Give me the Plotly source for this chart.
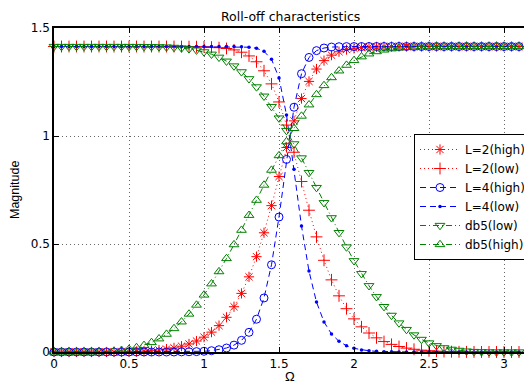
import plotly.graph_objects as go

# ---- data ----
omega = [0.00, 0.05, 0.10, 0.15, 0.20, 0.25, 0.30, 0.35, 0.40, 0.45,
         0.50, 0.55, 0.60, 0.65, 0.70, 0.75, 0.80, 0.85, 0.90, 0.95,
         1.00, 1.05, 1.10, 1.15, 1.20, 1.25, 1.30, 1.35, 1.40, 1.45,
         1.50, 1.55, 1.60, 1.65, 1.70, 1.75, 1.80, 1.85, 1.90, 1.95,
         2.00, 2.05, 2.10, 2.15, 2.20, 2.25, 2.30, 2.35, 2.40, 2.45,
         2.50, 2.55, 2.60, 2.65, 2.70, 2.75, 2.80, 2.85, 2.90, 2.95,
         3.00, 3.05, 3.10]

l2_high = [0.0, 0.0, 0.0, 0.0, 0.0, 0.0, 0.0, 0.0, 0.0, 0.0009,
           0.0015, 0.0025, 0.0040, 0.0061, 0.0092, 0.0134, 0.0191, 0.0269, 0.0372, 0.0508,
           0.0687, 0.0920, 0.1221, 0.1606, 0.2096, 0.2713, 0.3480, 0.4414, 0.5520, 0.6776,
           0.8123, 0.9468, 1.0701, 1.1734, 1.2527, 1.3099, 1.3490, 1.3742, 1.3901, 1.3999,
           1.4059, 1.4094, 1.4115, 1.4127, 1.4134, 1.4138, 1.4140, 1.4141, 1.4142, 1.4142,
           1.4142, 1.4142, 1.4142, 1.4142, 1.4142, 1.4142, 1.4142, 1.4142, 1.4142, 1.4142,
           1.4142, 1.4142, 1.4142]

l2_low = [1.4142, 1.4142, 1.4142, 1.4142, 1.4142, 1.4142, 1.4142, 1.4142, 1.4142, 1.4142,
          1.4142, 1.4142, 1.4142, 1.4142, 1.4142, 1.4141, 1.4141, 1.4140, 1.4137, 1.4133,
          1.4125, 1.4112, 1.4089, 1.4051, 1.3986, 1.3879, 1.3707, 1.3436, 1.3020, 1.2413,
          1.1577, 1.0505, 0.9247, 0.7894, 0.6564, 0.5330, 0.4245, 0.3340, 0.2600, 0.2005,
          0.1534, 0.1165, 0.0879, 0.0656, 0.0483, 0.0352, 0.0254, 0.0180, 0.0126, 0.0086,
          0.0057, 0.0037, 0.0023, 0.0015, 0.0009, 0.0006, 0.0004, 0.0002, 0.0001, 0.0001,
          0.0, 0.0, 0.0]

l4_high = [0.0, 0.0, 0.0, 0.0, 0.0, 0.0, 0.0, 0.0, 0.0, 0.0,
           0.0, 0.0, 0.0, 0.0, 0.0, 0.0, 0.0, 0.0005, 0.0010, 0.0018,
           0.0034, 0.0060, 0.0106, 0.0185, 0.0318, 0.0540, 0.0910, 0.1518, 0.2502, 0.4038,
           0.6247, 0.8916, 1.1332, 1.2884, 1.3637, 1.3952, 1.4073, 1.4118, 1.4134, 1.4139,
           1.4141, 1.4142, 1.4142, 1.4142, 1.4142, 1.4142, 1.4142, 1.4142, 1.4142, 1.4142,
           1.4142, 1.4142, 1.4142, 1.4142, 1.4142, 1.4142, 1.4142, 1.4142, 1.4142, 1.4142,
           1.4142, 1.4142, 1.4142]

l4_low = [1.4142, 1.4142, 1.4142, 1.4142, 1.4142, 1.4142, 1.4142, 1.4142, 1.4142, 1.4142,
          1.4142, 1.4142, 1.4142, 1.4142, 1.4142, 1.4142, 1.4142, 1.4142, 1.4142, 1.4142,
          1.4142, 1.4142, 1.4142, 1.4141, 1.4139, 1.4132, 1.4113, 1.4061, 1.3919, 1.3553,
          1.2688, 1.0978, 0.8461, 0.5831, 0.3745, 0.2310, 0.1394, 0.0834, 0.0494, 0.0290,
          0.0168, 0.0097, 0.0055, 0.0031, 0.0017, 0.0009, 0.0005, 0.0003, 0.0001, 0.0,
          0.0, 0.0, 0.0, 0.0, 0.0, 0.0, 0.0, 0.0, 0.0, 0.0,
          0.0, 0.0, 0.0]

db5_low = [1.4142, 1.4142, 1.4142, 1.4142, 1.4142, 1.4142, 1.4142, 1.4142, 1.4142, 1.4142,
           1.4141, 1.4141, 1.4139, 1.4135, 1.4129, 1.4118, 1.4100, 1.4073, 1.4032, 1.3974,
           1.3893, 1.3785, 1.3644, 1.3463, 1.3240, 1.2969, 1.2647, 1.2272, 1.1843, 1.1362,
           1.0830, 1.0253, 0.9634, 0.8983, 0.8306, 0.7612, 0.6911, 0.6212, 0.5526, 0.4860,
           0.4224, 0.3625, 0.3068, 0.2559, 0.2100, 0.1695, 0.1341, 0.1040, 0.0788, 0.0581,
           0.0417, 0.0289, 0.0192, 0.0122, 0.0074, 0.0042, 0.0021, 0.0010, 0.0004, 0.0001,
           0.0, 0.0, 0.0]

db5_high = [0.0, 0.0, 0.0, 0.0, 0.0, 0.0005, 0.0011, 0.0024, 0.0046, 0.0081,
            0.0133, 0.0207, 0.0308, 0.0442, 0.0613, 0.0827, 0.1087, 0.1397, 0.1759, 0.2174,
            0.2641, 0.3159, 0.3722, 0.4329, 0.4970, 0.5640, 0.6329, 0.7029, 0.7729, 0.8421,
            0.9094, 0.9741, 1.0353, 1.0923, 1.1446, 1.1919, 1.2339, 1.2705, 1.3018, 1.3281,
            1.3497, 1.3670, 1.3805, 1.3909, 1.3985, 1.4040, 1.4078, 1.4104, 1.4120, 1.4130,
            1.4136, 1.4139, 1.4141, 1.4142, 1.4142, 1.4142, 1.4142, 1.4142, 1.4142, 1.4142,
            1.4142, 1.4142, 1.4142]

series_names = ["L=2(high)", "L=2(low)", "L=4(high)", "L=4(low)", "db5(low)", "db5(high)"]
x_ticks = [0, 0.5, 1, 1.5, 2, 2.5, 3]
x_tick_labels = ["0", "0.5", "1", "1.5", "2", "2.5", "3"]
y_ticks = [0, 0.5, 1, 1.5]
y_tick_labels = ["0", "0.5", "1", "1.5"]

for arr in (l2_high, l2_low, l4_high, l4_low, db5_low, db5_high):
    assert len(arr) == len(omega)

RED = "#ff0000"
BLUE = "#0000ff"
GREEN = "#008000"
WIDE = "DejaVu Sans, Verdana, sans-serif"
NARROW = "Liberation Sans, Arial, Helvetica, sans-serif"

DOTTED = "1px,3px"
DASHED = "6px,4px"
DASHDOT = "6px,3px,1px,3px"

styles = [
    (l2_high, RED, DOTTED, "asterisk-open", 8.5, 1),
    (l2_low, RED, DOTTED, "cross-thin-open", 8.5, 1),
    (l4_high, BLUE, DASHED, "circle-open", 8, 1),
    (l4_low, BLUE, DASHED, "circle", 3.5, 0),
    (db5_low, GREEN, DASHDOT, "triangle-down-open", 8.5, 1),
    (db5_high, GREEN, DASHDOT, "triangle-up-open", 8.5, 1),
]

fig = go.Figure()
for name, (vals, col, dash, sym, msize, mlw) in zip(series_names, styles):
    fig.add_trace(go.Scatter(
        x=omega, y=vals, name=name, mode="lines+markers",
        line=dict(color=col, width=1, dash=dash),
        marker=dict(symbol=sym, size=msize, color=col,
                    line=dict(color=col, width=mlw)),
        cliponaxis=False,
    ))

# The page body adds an 8 px offset; figure pixels = page pixels - 8.
OFF = 8
W, H = 532 - OFF, 385 - OFF
L, R, T, B = 54 - OFF, 0, 28 - OFF, H - (352 - OFF)
pw = W - L - R
ph = H - T - B

def paper_x(page_px):
    return (page_px - OFF - L) / pw

def paper_y(page_py):
    return (H - B - (page_py - OFF)) / ph

axis_common = dict(
    showline=True, linecolor="black", linewidth=1.5,
    ticks="inside", ticklen=5, tickcolor="black", tickwidth=1,
    showgrid=True, gridcolor="rgba(0,0,0,0.6)", griddash="1px,3px", gridwidth=1,
    zeroline=False,
    tickfont=dict(family=WIDE, size=12, color="black"),
)

fig.update_layout(
    width=W, height=H,
    margin=dict(l=L, r=R, t=T, b=B),
    paper_bgcolor="white", plot_bgcolor="white",
    xaxis=dict(range=[0, pw / 150.0], tickvals=x_ticks, ticktext=x_tick_labels,
               mirror="ticks", **axis_common),
    yaxis=dict(range=[0, 1.5], tickvals=y_ticks, ticktext=y_tick_labels,
               **axis_common),
    legend=dict(x=paper_x(531), y=paper_y(134), xanchor="right", yanchor="top",
                bgcolor="white", bordercolor="black", borderwidth=1,
                font=dict(family=WIDE, size=12, color="black"),
                itemwidth=40, tracegroupgap=0),
    showlegend=True,
    annotations=[
        dict(text="Roll-off characteristics", x=paper_x(290), y=paper_y(16),
             xref="paper", yref="paper", showarrow=False, xanchor="center", yanchor="middle",
             font=dict(family=WIDE, size=12.5, color="black")),
        dict(text="Magnitude", textangle=-90, x=paper_x(15), y=paper_y(190),
             xref="paper", yref="paper", showarrow=False, xanchor="center", yanchor="middle",
             font=dict(family=NARROW, size=12.5, color="black")),
        dict(text="Ω", x=paper_x(290), y=paper_y(377),
             xref="paper", yref="paper", showarrow=False, xanchor="center", yanchor="middle",
             font=dict(family=NARROW, size=13, color="black")),
    ],
)

fig.write_html("out.html")
